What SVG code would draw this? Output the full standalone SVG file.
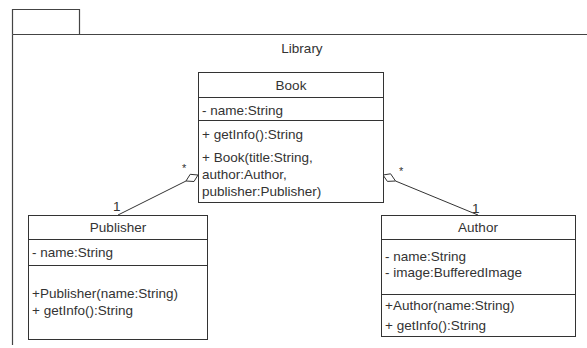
<svg xmlns="http://www.w3.org/2000/svg" width="587" height="348" viewBox="0 0 587 348">
<style>
text{font-family:"Liberation Sans",Arial,sans-serif;font-size:13.5px;fill:#333}
.c{text-anchor:middle}
.s{font-size:11px}
.box{fill:#fff;stroke:#333;stroke-width:1}
.ln{stroke:#333;stroke-width:1;fill:none}
.frame{stroke:#444;stroke-width:1.2;fill:none}
</style>
<rect width="587" height="348" fill="#fff"/>
<g id="package">
<path class="frame" d="M12.5 34.5V9.5H79.5V34.5"/>
<path class="frame" d="M12.5 34.5H587M12.5 34.5V345"/>
<text class="c" x="302" y="53">Library</text>
</g>
<g id="connectors">
<line class="ln" x1="118" y1="215" x2="186" y2="181"/>
<polygon class="box" points="198,175 190.2,174.3 186,181 194,181.5"/>
<text class="s" x="182" y="172">*</text>
<text x="113" y="211">1</text>
<line class="ln" x1="478" y1="215" x2="395.5" y2="181"/>
<polygon class="box" points="383,175 390.6,173.8 395.5,181 387.4,181.4"/>
<text class="s" x="399" y="175">*</text>
<text x="472" y="213">1</text>
</g>
<g id="book">
<rect class="box" x="198.5" y="72.5" width="185" height="130"/>
<line class="ln" x1="198.5" y1="97.5" x2="383.5" y2="97.5"/>
<line class="ln" x1="198.5" y1="120.5" x2="383.5" y2="120.5"/>
<text class="c" x="291" y="90">Book</text>
<text x="202" y="115">- name:String</text>
<text x="202" y="139">+ getInfo():String</text>
<text x="202" y="162">+ Book(title:String,</text>
<text x="202" y="179">author:Author,</text>
<text x="202" y="196">publisher:Publisher)</text>
</g>
<g id="publisher">
<rect class="box" x="28.5" y="215.5" width="179" height="124"/>
<line class="ln" x1="28.5" y1="239.5" x2="207.5" y2="239.5"/>
<line class="ln" x1="28.5" y1="265.5" x2="207.5" y2="265.5"/>
<text class="c" x="118" y="232">Publisher</text>
<text x="32" y="257">- name:String</text>
<text x="32" y="298">+Publisher(name:String)</text>
<text x="32" y="315">+ getInfo():String</text>
</g>
<g id="author">
<rect class="box" x="381.5" y="215.5" width="194" height="121"/>
<line class="ln" x1="381.5" y1="239.5" x2="575.5" y2="239.5"/>
<line class="ln" x1="381.5" y1="294.5" x2="575.5" y2="294.5"/>
<text class="c" x="478" y="232">Author</text>
<text x="385" y="261">- name:String</text>
<text x="385" y="277">- image:BufferedImage</text>
<text x="385" y="310">+Author(name:String)</text>
<text x="385" y="330">+ getInfo():String</text>
</g>
</svg>
